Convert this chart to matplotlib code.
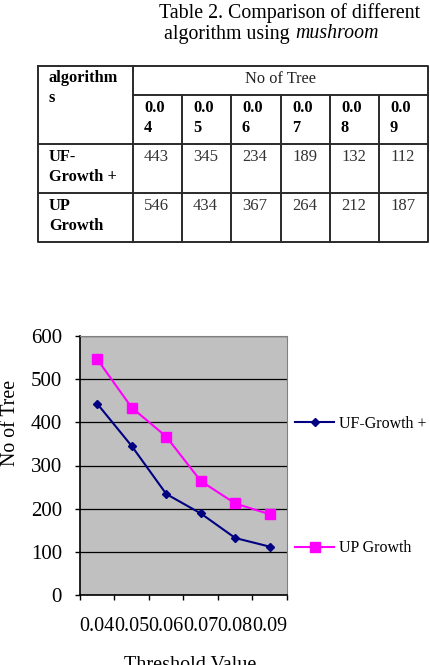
import matplotlib
matplotlib.use("Agg")
import matplotlib.pyplot as plt
import numpy as np

# ---- data ----
thresholds = ["0.04", "0.05", "0.06", "0.07", "0.08", "0.09"]
uf_growth = [443, 345, 234, 189, 132, 112]
up_growth = [546, 434, 367, 264, 212, 187]
series_names = ["UF-Growth +", "UP Growth"]
row_labels = ["UF-\nGrowth +", "UP\nGrowth"]
y_ticks = [0, 100, 200, 300, 400, 500, 600]

W, H = 431, 665
plt.rcParams['font.family'] = ['Liberation Serif', 'DejaVu Serif']
fig = plt.figure(figsize=(W / 100, H / 100), dpi=100)

# ---- overlay axes in pixel coordinates for the table ----
ov = fig.add_axes([0, 0, 1, 1])
ov.set_xlim(0, W)
ov.set_ylim(H, 0)
ov.axis('off')

ov.text(290, 13, "Table 2. Comparison of different", ha='center', va='center', fontsize=14.3)
t1 = ov.text(164, 34, "algorithm using", ha='left', va='center', fontsize=14.3)
renderer = fig.canvas.get_renderer()
bb = t1.get_window_extent(renderer)
x_after = bb.x1 * (W / fig.bbox.width) + 6
ov.text(x_after, 34, "mushroom", ha='left', va='center', fontsize=14.3, style='italic')

cols = [38, 133, 182, 231, 281, 330, 379, 428]
rows = [66, 95, 144, 193, 242]
lc = '#2a2a2a'
lw = 1.4
ov.plot([cols[0], cols[-1], cols[-1], cols[0], cols[0]],
        [rows[0], rows[0], rows[-1], rows[-1], rows[0]], color=lc, lw=lw)
ov.plot([cols[1], cols[-1]], [rows[1], rows[1]], color=lc, lw=lw)
for r in rows[2:-1]:
    ov.plot([cols[0], cols[-1]], [r, r], color=lc, lw=lw)
ov.plot([cols[1], cols[1]], [rows[0], rows[-1]], color=lc, lw=lw)
for c in cols[2:-1]:
    ov.plot([c, c], [rows[1], rows[-1]], color=lc, lw=lw)

fs_t = 11.8
def multiline(x, y, s, **kw):
    for i, line in enumerate(s.split("\n")):
        ov.text(x, y + i * 20, line, ha='left', va='center', fontsize=fs_t, **kw)

multiline(49, 78, "algorithm\ns", weight='bold')
ov.text((cols[1] + cols[-1]) / 2, 79, "No of Tree", ha='center', va='center', fontsize=fs_t, color='#222222')
for i, t in enumerate(thresholds):
    multiline(cols[i + 1] + 11, 108, t[:3] + "\n" + t[3:], weight='bold')
for r, (lab, vals) in enumerate(zip(row_labels, [uf_growth, up_growth])):
    y0 = rows[r + 2] + 13
    multiline(49, y0, lab, weight='bold')
    for i, v in enumerate(vals):
        ov.text(cols[i + 1] + 11, y0, str(v), ha='left', va='center', fontsize=12, color='#333333')

# ---- chart ----
ax = fig.add_axes([80 / W, (H - 595) / H, 207 / W, 259 / H])
ax.set_facecolor('#C0C0C0')
x = np.arange(len(thresholds))
l1, = ax.plot(x, uf_growth, color='#000080', marker='D', markersize=4, lw=1.5, label=series_names[0])
l2, = ax.plot(x, up_growth, color='#FF00FF', marker='s', markersize=6.5, lw=1.5, label=series_names[1])
ax.set_xlim(-0.5, len(thresholds) - 0.5)
ax.set_ylim(0, 600)
ax.set_yticks(y_ticks)
ax.set_yticklabels([str(v) for v in y_ticks], fontsize=15)
ax.yaxis.grid(True, color='#000000', lw=0.9)
ax.set_axisbelow(True)
ax.set_xticks(x)
ax.set_xticklabels(thresholds, fontsize=14.5)
ax.tick_params(axis='x', length=0, pad=16)
ax.set_xticks(np.arange(-0.5, len(thresholds)), minor=True)
ax.tick_params(axis='x', which='minor', length=3.6, width=1, direction='out')
ax.tick_params(axis='y', length=3.6, width=1, direction='out', pad=9.5)
for s in ['top', 'right']:
    ax.spines[s].set_color('#808080')
for s in ['left', 'bottom']:
    ax.spines[s].set_color('#000000')
    ax.spines[s].set_linewidth(1.2)

fig.text(11 / W, (H - 423) / H, "No of Tree", rotation=90, ha='center', va='center', fontsize=14.3)
fig.text(190 / W, (H - 656) / H, "Threshold Value", ha='center', va='top', fontsize=14.5)

ax.legend(handles=[l1, l2], loc='center left',
          bbox_to_anchor=(295 / W, (H - 486) / H), bbox_transform=fig.transFigure,
          frameon=False, borderpad=0, borderaxespad=0, fontsize=11.5,
          handlelength=2.45, handletextpad=0.3, labelspacing=6.8)

fig.savefig("out.png", dpi=100)
